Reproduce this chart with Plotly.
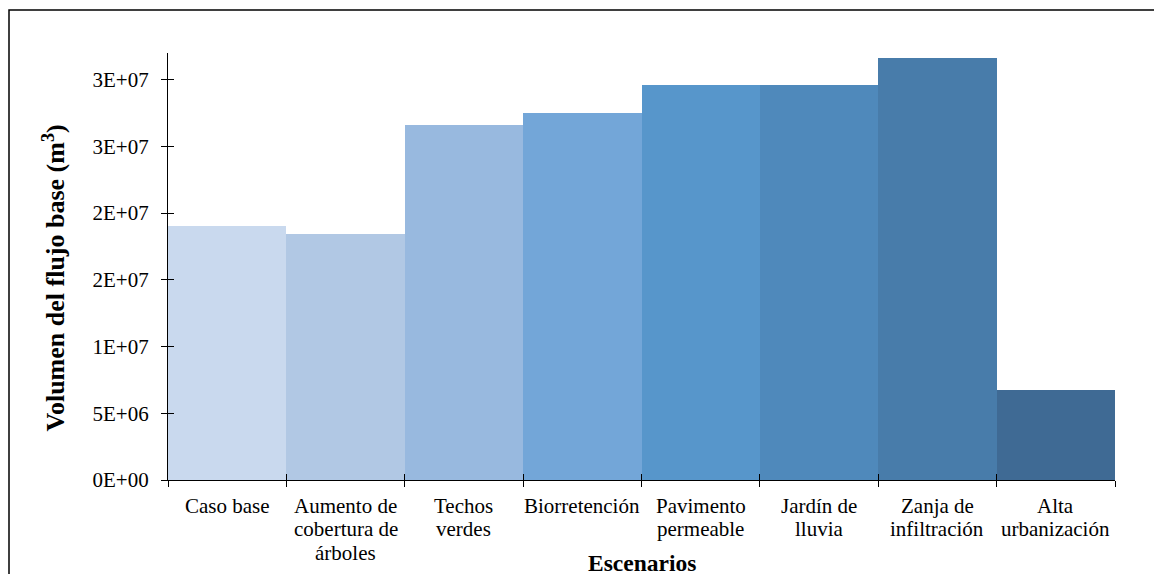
import plotly.graph_objects as go

# Scenario names (one entry per line of the axis label) and base-flow volumes (m3)
scenario_lines = [
    ["Caso base"],
    ["Aumento de", "cobertura de", "árboles"],
    ["Techos", "verdes"],
    ["Biorretención"],
    ["Pavimento", "permeable"],
    ["Jardín de", "lluvia"],
    ["Zanja de", "infiltración"],
    ["Alta", "urbanización"],
]
scenarios = [" ".join(lines) for lines in scenario_lines]
volumes = [19.0e6, 18.43e6, 26.6e6, 27.5e6, 29.6e6, 29.6e6, 31.62e6, 6.75e6]
bar_colors = ["#C9D9EE", "#B1C8E4", "#98B9DF", "#73A6D8",
              "#5796CB", "#4F89BB", "#487CAA", "#3F6A94"]

y_tick_vals = [0, 5e6, 10e6, 15e6, 20e6, 25e6, 30e6]
y_tick_text = ["0E+00", "5E+06", "1E+07", "2E+07", "2E+07", "3E+07", "3E+07"]
y_max = 32e6

FONT = "Liberation Serif"
n = len(scenarios)

fig = go.Figure()
fig.add_trace(go.Bar(
    x=scenarios, y=volumes,
    marker=dict(color=bar_colors, line=dict(width=0)),
    width=1.0, hoverinfo="x+y", showlegend=False,
))
# invisible trace so the overlay axes (inner half of the cross ticks) get drawn
fig.add_trace(go.Scatter(
    x=list(range(n)), y=volumes, xaxis="x2", yaxis="y2",
    mode="markers", marker=dict(opacity=0), hoverinfo="skip", showlegend=False,
))

axis_font = dict(family=FONT, size=21, color="#000000")

fig.update_layout(
    width=1154, height=574,
    margin=dict(l=168, r=39, t=53, b=94),
    paper_bgcolor="white", plot_bgcolor="white",
    bargap=0,
    font=dict(family=FONT, color="#000000"),
    xaxis=dict(
        type="category", range=[-0.5, n - 0.5],
        showline=True, linecolor="#000000", linewidth=1.3,
        ticks="outside", tickson="boundaries", ticklen=6, tickwidth=1,
        tickcolor="#000000", showticklabels=False,
        showgrid=False, zeroline=False, fixedrange=True,
    ),
    yaxis=dict(
        range=[0, y_max], tickvals=y_tick_vals, ticktext=y_tick_text,
        showline=True, linecolor="#000000", linewidth=1.3,
        ticks="outside", ticklen=6, tickwidth=1, tickcolor="#000000",
        tickfont=axis_font, ticklabelstandoff=8,
        showgrid=False, zeroline=False, fixedrange=True,
    ),
    xaxis2=dict(
        overlaying="x", range=[-0.5, n - 0.5],
        tickvals=[i - 0.5 for i in range(n + 1)],
        ticks="inside", ticklen=6, tickwidth=1, tickcolor="#000000",
        showticklabels=False, showline=False, showgrid=False, zeroline=False,
        anchor="y2", side="bottom",
    ),
    yaxis2=dict(
        overlaying="y", range=[0, y_max], tickvals=y_tick_vals,
        ticks="inside", ticklen=6, tickwidth=1, tickcolor="#000000",
        showticklabels=False, showline=False, showgrid=False, zeroline=False,
        side="left", anchor="x2",
    ),
)

# category labels, one annotation per text line
line_step = 23.3
for name, lines in zip(scenarios, scenario_lines):
    for j, text in enumerate(lines):
        fig.add_annotation(
            x=name, y=0, xref="x", yref="paper",
            text=text, showarrow=False,
            yanchor="middle", xanchor="center",
            yshift=-26 - j * line_step,
            font=axis_font,
        )

# axis titles
fig.add_annotation(
    x=0.5, y=0, xref="paper", yref="paper",
    text="<b>Escenarios</b>", showarrow=False,
    yanchor="middle", xanchor="center", yshift=-83,
    font=dict(family=FONT, size=23.5, color="#000000"),
)
fig.add_annotation(
    x=(54 - 168) / 947, y=0.472, xref="paper", yref="paper",
    text="<b>Volumen del flujo base (m<sup>3</sup>)</b>", showarrow=False,
    textangle=-90, xanchor="center", yanchor="middle",
    font=dict(family=FONT, size=26, color="#000000"),
)

# outer frame of the chart
fig.add_shape(
    type="rect", xref="paper", yref="paper",
    x0=(9 - 168) / 947, x1=1.3, y0=-0.5, y1=(480 - 10) / 427,
    line=dict(color="#000000", width=1.5), fillcolor="rgba(0,0,0,0)",
    layer="above",
)

fig.write_html("out.html")
